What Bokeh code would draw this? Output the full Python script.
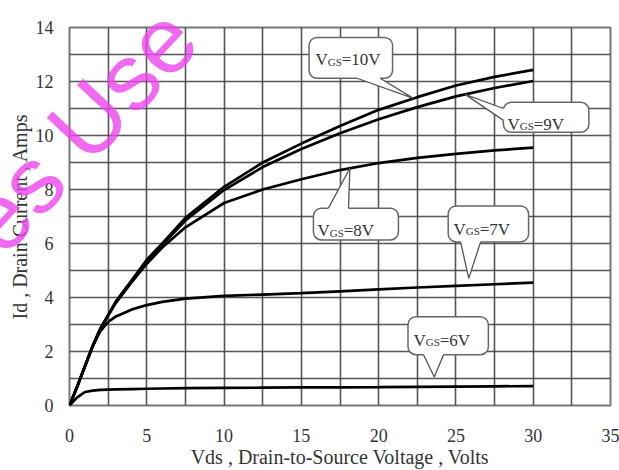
import numpy as np
from bokeh.plotting import figure
from bokeh.models import SingleIntervalTicker, FixedTicker, Range1d
from bokeh.core.properties import value
from bokeh.embed import file_html
from bokeh.resources import INLINE

# Output characteristics: drain current vs drain-to-source voltage
vds = [0, 0.5, 1, 1.5, 2, 2.5, 3, 4, 5, 6, 7.5, 10, 12.5, 15, 17.5, 20, 22.5, 25, 27.5, 30]
id_10v = [0, 0.7, 1.45, 2.2, 2.85, 3.35, 3.85, 4.62, 5.4, 6.0, 6.95, 8.1, 9.0, 9.7, 10.35, 10.95, 11.42, 11.85, 12.17, 12.43]
id_9v = [0, 0.7, 1.45, 2.2, 2.85, 3.35, 3.85, 4.6, 5.35, 5.95, 6.85, 7.98, 8.83, 9.5, 10.08, 10.6, 11.05, 11.45, 11.76, 12.02]
id_8v = [0, 0.7, 1.45, 2.2, 2.85, 3.33, 3.8, 4.55, 5.25, 5.85, 6.6, 7.5, 8.0, 8.38, 8.72, 8.98, 9.17, 9.32, 9.45, 9.55]
id_7v = [0, 0.7, 1.45, 2.2, 2.75, 3.1, 3.3, 3.55, 3.72, 3.84, 3.96, 4.06, 4.11, 4.16, 4.23, 4.3, 4.37, 4.43, 4.49, 4.55]
id_6v = [0, 0.3, 0.5, 0.55, 0.58, 0.59, 0.6, 0.61, 0.62, 0.63, 0.64, 0.65, 0.66, 0.67, 0.675, 0.68, 0.69, 0.7, 0.71, 0.72]

curve_values = [id_10v, id_9v, id_8v, id_7v, id_6v]

x_ticks = [0, 5, 10, 15, 20, 25, 30, 35]
y_ticks = [0, 2, 4, 6, 8, 10, 12, 14]

SERIF = "Liberation Serif"
INK = "#333333"

p = figure(width=619, height=470, x_range=Range1d(0, 35), y_range=Range1d(0, 14),
           output_backend="svg", toolbar_location=None,
           min_border_left=69, min_border_right=9, min_border_top=27, min_border_bottom=64)
p.background_fill_color = "white"
p.border_fill_color = "white"
p.outline_line_color = "#777777"
p.outline_line_width = 2

# axes: labels only, no ticks or spines
p.xaxis.ticker = FixedTicker(ticks=x_ticks)
p.yaxis.ticker = FixedTicker(ticks=y_ticks)
for ax in (p.xaxis[0], p.yaxis[0]):
    ax.axis_line_color = None
    ax.major_tick_line_color = None
    ax.minor_tick_line_color = None
    ax.major_label_text_font = SERIF
    ax.major_label_text_font_size = "18px"
    ax.major_label_text_color = INK
    ax.axis_label_text_font = SERIF
    ax.axis_label_text_font_size = "20px"
    ax.axis_label_text_font_style = "normal"
    ax.axis_label_text_color = INK
p.xaxis.major_label_standoff = 17
p.xaxis.axis_label_standoff = 1
p.yaxis.major_label_standoff = 10
p.yaxis.axis_label_standoff = 2
p.xaxis.axis_label = "Vds , Drain-to-Source Voltage , Volts"
p.yaxis.axis_label = "Id , Drain Current , Amps"

# dense grid
p.xgrid.ticker = SingleIntervalTicker(interval=2.5, num_minor_ticks=0)
p.ygrid.ticker = SingleIntervalTicker(interval=1, num_minor_ticks=0)
for g in (p.xgrid[0], p.ygrid[0]):
    g.grid_line_color = "#444444"
    g.grid_line_width = 1.6
    g.grid_line_alpha = 0.9

for vals in curve_values:
    p.line(vds, vals, line_color="black", line_width=2.7)

# callout boxes: (suffix, curve, box l/r/b/t, side of tail, tail base x/y pairs, tip x, gap, text x/y)
callouts = [
    ("=10V", id_10v, (15.5, 20.9, 12.12, 13.63), "bottom", [(18.6, 12.12), (20.1, 12.12)], 22.25, 0.0, (15.91, 12.8)),
    ("=9V", id_9v, (28.07, 33.6, 10.12, 11.23), "left", [(28.07, 11.0), (28.07, 10.56)], 25.6, 0.0, (28.33, 10.42)),
    ("=8V", id_8v, (15.78, 21.28, 6.13, 7.31), "top", [(16.75, 7.31), (18.05, 7.31)], 18.14, 0.0, (16.04, 6.47)),
    ("=7V", id_7v, (24.5, 29.7, 6.06, 7.39), "bottom", [(25.3, 6.06), (26.6, 6.06)], 25.83, 0.26, (24.84, 6.52)),
    ("=6V", id_6v, (21.9, 27.1, 1.88, 3.29), "bottom", [(22.9, 1.88), (24.2, 1.88)], 23.6, 0.36, (22.25, 2.42)),
]

px_x = 35 / 541.0
px_y = 14 / 379.0
inward = {"bottom": (0, 3 * px_y), "top": (0, -3 * px_y), "left": (3 * px_x, 0)}

for suffix, curve, (l, r, b, t), side, base, tip_x, gap, (tx, ty) in callouts:
    p.quad(left=[l], right=[r], bottom=[b], top=[t], fill_color="white",
           line_color="#666666", line_width=1.5, border_radius=8)
    tip_y = float(np.interp(tip_x, vds, curve)) + gap
    dx, dy = inward[side]
    (x0, y0), (x1, y1) = base
    p.patch([x0, tip_x, x1, x1 + dx, x0 + dx], [y0, tip_y, y1, y1 + dy, y0 + dy],
            fill_color="white", line_color=None)
    p.line([x0, tip_x, x1], [y0, tip_y, y1], line_color="#555555", line_width=1.3)
    p.text(x=[tx], y=[ty], text=["V"], text_font=value(SERIF), text_font_size="17px",
           text_color=INK, text_baseline="alphabetic", text_align="left")
    p.text(x=[tx], y=[ty], text=["GS"], text_font=value(SERIF), text_font_size="11px",
           text_color=INK, text_baseline="alphabetic", text_align="left", x_offset=12.3, y_offset=2)
    p.text(x=[tx], y=[ty], text=[suffix], text_font=value(SERIF), text_font_size="17px",
           text_color=INK, text_baseline="alphabetic", text_align="left", x_offset=26.3)

# diagonal watermark on the overlay level, free to run past the frame
p.text(x=[0.65], y=[10.21], text=["es Use"], angle=47, angle_units="deg",
       text_font=value("Liberation Sans"), text_font_size="94px",
       text_color="#ee44ee", text_alpha=0.8,
       text_align="center", text_baseline="middle", level="overlay")

open("out.html", "w").write(file_html(p, INLINE))
